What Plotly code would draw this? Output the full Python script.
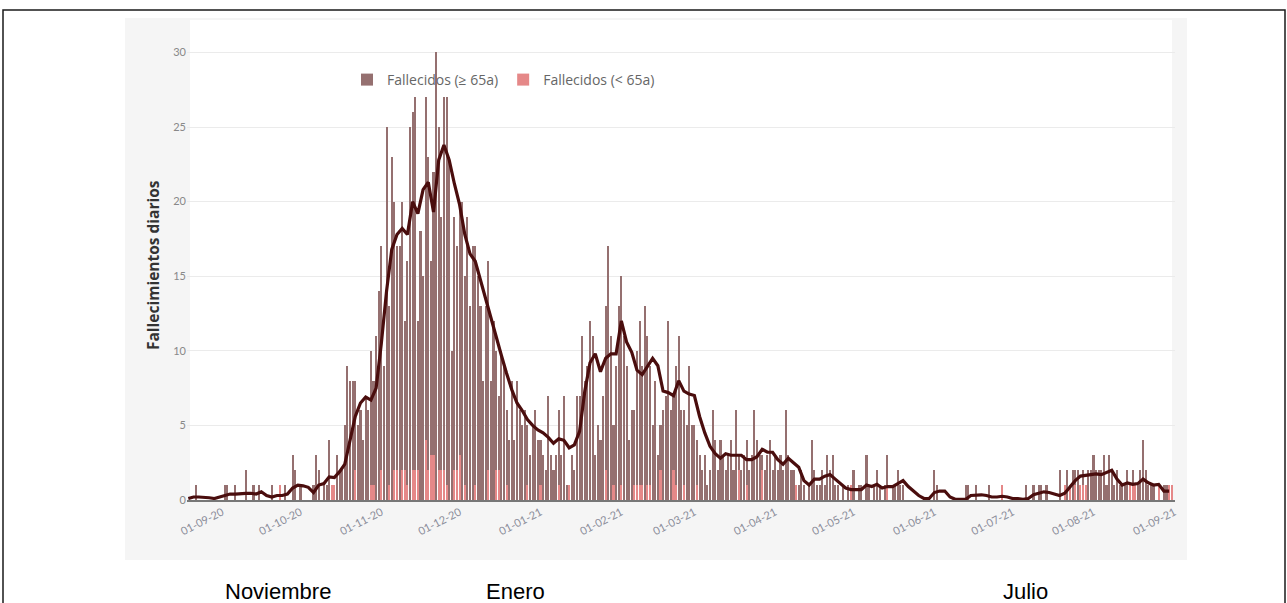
import pandas as pd
import plotly.graph_objects as go

# ---- Fallecidos diarios (total), por mes, desde 2020-08-19 ----
total_ago20 = [0, 0, 0, 1, 0, 0, 0, 0, 0, 0, 0, 0, 0]
total_sep20 = [0, 1, 1, 0, 0, 1, 0, 0, 0, 2, 0, 0, 1, 0, 1, 0, 0, 0, 0, 1,
               0, 0, 1, 0, 1, 0, 0, 3, 2, 0]
total_oct20 = [1, 0, 0, 0, 0, 1, 3, 2, 0, 1, 1, 4, 1, 1, 3, 2, 2, 5, 9, 8,
               8, 8, 5, 6, 4, 7, 6, 10, 8, 11, 14]
total_nov20 = [17, 9, 25, 13, 23, 20, 17, 17, 20, 12, 16, 25, 26, 27, 12, 18, 15, 27, 23, 16,
               22, 30, 25, 19, 27, 27, 23, 10, 19, 17]
total_dic20 = [20, 20, 15, 19, 13, 17, 17, 15, 13, 8, 13, 16, 8, 12, 10, 7, 10, 9, 6, 4,
               8, 4, 8, 6, 5, 6, 5, 3, 5, 6, 4]
total_ene21 = [4, 3, 2, 7, 3, 2, 3, 6, 3, 7, 1, 1, 3, 2, 7, 7, 11, 8, 9, 12,
               11, 3, 5, 4, 7, 13, 17, 11, 5, 9, 13]
total_feb21 = [15, 11, 9, 4, 6, 6, 10, 12, 9, 13, 11, 9, 5, 8, 3, 5, 6, 7, 12, 6,
               7, 9, 11, 6, 6, 5, 9, 5]
total_mar21 = [5, 4, 3, 2, 3, 1, 2, 6, 4, 2, 4, 3, 2, 3, 4, 2, 6, 3, 2, 3,
               4, 2, 3, 6, 4, 3, 3, 2, 3, 4, 2]
total_abr21 = [3, 2, 3, 2, 6, 3, 2, 2, 1, 1, 2, 1, 0, 1, 4, 2, 1, 1, 2, 1,
               3, 2, 3, 1, 1, 0, 1, 0, 1, 1]
total_may21 = [2, 0, 1, 1, 0, 3, 1, 0, 1, 2, 1, 0, 1, 3, 0, 1, 1, 2, 1, 1,
               0, 0, 0, 0, 0, 0, 0, 0, 0, 0, 0]
total_jun21 = [2, 1, 0, 0, 0, 0, 0, 0, 0, 0, 0, 0, 1, 1, 0, 0, 1, 0, 0, 0,
               0, 1, 0, 0, 0, 0, 1, 0, 0, 0]
total_jul21 = [0, 0, 0, 0, 0, 1, 0, 0, 1, 0, 1, 1, 0, 1, 0, 0, 0, 0, 2, 0,
               1, 2, 1, 2, 2, 2, 1, 2, 1, 2, 2]
total_ago21 = [3, 2, 2, 2, 3, 1, 3, 2, 1, 2, 1, 1, 1, 2, 1, 2, 1, 1, 2, 4,
               2, 1, 1, 1, 0, 1, 0, 1, 1, 1, 1]

# ---- Fallecidos (< 65a): días con valor distinto de cero ----
menores_65 = {
    "2020-09-23": 1, "2020-10-13": 1, "2020-10-14": 1, "2020-10-22": 2, "2020-10-28": 1,
    "2020-10-29": 1, "2020-11-01": 2, "2020-11-04": 1, "2020-11-06": 2, "2020-11-07": 2,
    "2020-11-09": 2, "2020-11-10": 2, "2020-11-11": 1, "2020-11-13": 2, "2020-11-14": 2,
    "2020-11-15": 2, "2020-11-18": 4, "2020-11-19": 2, "2020-11-20": 3, "2020-11-21": 3,
    "2020-11-23": 2, "2020-11-24": 2, "2020-11-25": 2, "2020-11-26": 1, "2020-11-29": 2,
    "2020-11-30": 2, "2020-12-01": 3, "2020-12-03": 1, "2020-12-07": 1, "2020-12-12": 2,
    "2020-12-15": 2, "2020-12-16": 2, "2020-12-19": 1, "2020-12-27": 1, "2021-01-01": 1,
    "2021-01-08": 1, "2021-01-12": 1, "2021-01-26": 2, "2021-01-29": 1, "2021-02-01": 1,
    "2021-02-06": 1, "2021-02-07": 1, "2021-02-08": 1, "2021-02-09": 1, "2021-02-11": 1,
    "2021-02-12": 1, "2021-02-16": 2, "2021-02-21": 2, "2021-02-22": 1, "2021-02-25": 1,
    "2021-03-02": 1, "2021-03-18": 2, "2021-03-21": 1, "2021-03-27": 2, "2021-04-09": 1,
    "2021-04-30": 1, "2021-05-14": 1, "2021-06-27": 1, "2021-07-21": 1, "2021-07-23": 1,
    "2021-07-25": 1, "2021-07-27": 1, "2021-07-28": 1, "2021-07-29": 1, "2021-08-15": 1,
    "2021-08-16": 1, "2021-08-17": 1, "2021-08-26": 1, "2021-08-30": 1, "2021-08-31": 1,
}

# ---- Media móvil (línea), leída cada 2 días desde 2020-08-19 ----
media_movil = [
    0.1, 0.2, 0.2, 0.2, 0.15, 0.1, 0.2, 0.3, 0.4, 0.4,
    0.45, 0.45, 0.45, 0.4, 0.55, 0.3, 0.2, 0.3, 0.3, 0.4,
    0.8, 1.0, 0.95, 0.85, 0.5, 1.0, 1.1, 1.55, 1.5, 1.9,
    2.4, 4.0, 5.6, 6.5, 6.9, 6.7, 7.5, 10.5, 14, 16.8,
    17.8, 18.2, 17.8, 20, 19.2, 20.8, 21.3, 19.3, 22.8, 23.8,
    22.8, 21.2, 19.8, 17.8, 16.5, 16, 14.7, 13.5, 12.2, 10.8,
    9.7, 8.5, 7.4, 6.5, 6.0, 5.4, 5.0, 4.7, 4.5, 4.2,
    3.8, 4.1, 4.0, 3.5, 3.7, 4.6, 7.3, 9.2, 9.8, 8.6,
    9.5, 9.8, 9.8, 12.0, 10.6, 9.9, 8.7, 8.4, 9.0, 9.5,
    9.0, 7.3, 7.2, 7.0, 8.0, 7.3, 7.1, 7.0, 5.6, 4.5,
    3.6, 3.1, 2.8, 3.1, 3.0, 3.0, 3.0, 2.7, 2.7, 2.9,
    3.4, 3.2, 3.2, 2.7, 2.4, 2.8, 2.5, 2.2, 1.3, 1.0,
    1.4, 1.4, 1.6, 1.7, 1.4, 1.1, 0.8, 0.7, 0.7, 0.7,
    1.0, 0.9, 1.05, 0.8, 0.9, 0.9, 1.1, 1.3, 0.9, 0.6,
    0.3, 0.1, 0.1, 0.5, 0.6, 0.6, 0.2, 0.05, 0.05, 0.05,
    0.3, 0.35, 0.35, 0.3, 0.2, 0.2, 0.25, 0.2, 0.1, 0.1,
    0.05, 0.1, 0.35, 0.45, 0.55, 0.5, 0.4, 0.3, 0.45, 0.9,
    1.3, 1.6, 1.65, 1.7, 1.75, 1.7, 1.85, 2.0, 1.4, 1.0,
    1.15, 1.05, 1.1, 1.4, 1.15, 1.0, 1.05, 0.6, 0.6,
]

y_ticks = [0, 5, 10, 15, 20, 25, 30]
meses_texto = ["Noviembre", "Enero", "Julio"]

inicio = "2020-08-19"
total = (total_ago20 + total_sep20 + total_oct20 + total_nov20 + total_dic20 + total_ene21
         + total_feb21 + total_mar21 + total_abr21 + total_may21 + total_jun21
         + total_jul21 + total_ago21)
fechas = pd.date_range(inicio, periods=len(total), freq="D")
menores = [menores_65.get(d.strftime("%Y-%m-%d"), 0) for d in fechas]
mayores = [t - m for t, m in zip(total, menores)]
fechas_media = pd.date_range(inicio, periods=len(media_movil), freq="2D")

# ---- layout geometry (pixels) ----
W, H = 1287, 603
L, R, T, B = 187, 112, 45, 103
pw, ph = W - L - R, H - T - B


def px(xp):
    return (xp - L) / pw


def py(yp):
    return (H - B - yp) / ph


FONT = "Lato"
fig = go.Figure()
fig.add_trace(go.Bar(x=fechas, y=menores, name="Fallecidos (< 65a)",
                     marker=dict(color="#e58888", line=dict(width=0))))
fig.add_trace(go.Bar(x=fechas, y=mayores, name="Fallecidos (≥ 65a)",
                     marker=dict(color="#957070", line=dict(width=0))))
fig.add_trace(go.Scatter(x=fechas_media, y=media_movil, mode="lines",
                         line=dict(color="#4a0d0d", width=3.2), showlegend=False))

shapes = [
    # light grey card behind the chart
    dict(type="rect", xref="paper", yref="paper", x0=px(125), x1=px(1187), y0=py(560), y1=py(18),
         fillcolor="#f5f5f5", line=dict(width=0), layer="below"),
    dict(type="rect", xref="paper", yref="paper", x0=px(190), x1=px(1172), y0=py(500), y1=py(20),
         fillcolor="#ffffff", line=dict(width=0), layer="below"),
    # outer frame
    dict(type="rect", xref="paper", yref="paper", x0=px(3), x1=px(1285), y0=py(640), y1=py(10),
         fillcolor="rgba(0,0,0,0)", line=dict(color="#1a1a1a", width=1.5), layer="below"),
]

annotations = [
    dict(text="<b>Fallecimientos diarios</b>", xref="paper", yref="paper", x=px(153), y=py(265),
         textangle=-90, showarrow=False, font=dict(family="Open Sans", size=15.5, color="#333333"),
         xanchor="center", yanchor="middle"),
]
for txt, xc in zip(meses_texto, [278, 515, 1025]):
    annotations.append(dict(text=txt, xref="paper", yref="paper", x=px(xc), y=py(591),
                            showarrow=False, xanchor="center", yanchor="middle",
                            font=dict(family="Liberation Sans", size=22, color="#000000")))

fig.update_layout(
    width=W, height=H,
    margin=dict(l=L, r=R, t=T, b=B, pad=0),
    paper_bgcolor="#ffffff", plot_bgcolor="#ffffff",
    barmode="stack", bargap=0.2,
    font=dict(family=FONT, color="#777777"),
    showlegend=True,
    legend=dict(orientation="h", x=px(347), y=py(80), xanchor="left", yanchor="middle",
                traceorder="reversed", bgcolor="rgba(0,0,0,0)",
                font=dict(family="Open Sans", size=14, color="#666666"), itemwidth=30),
    shapes=shapes, annotations=annotations,
    xaxis=dict(type="date", range=["2020-08-18 12:00", "2021-09-01 06:00"],
               tick0="2020-09-01", dtick="M1", tickformat="%d-%m-%y", tickangle=-27,
               showgrid=False, showline=True, linecolor="#777777", linewidth=1.5,
               ticks="", tickfont=dict(family=FONT, size=11, color="#8a8c99")),
    yaxis=dict(range=[0, 30.5], tickvals=y_ticks, showgrid=True, gridcolor="#ebebeb",
               gridwidth=1, zeroline=False, showline=False, ticks="",
               tickfont=dict(family=FONT, size=11, color="#888888")),
)

fig.write_html("out.html", config={"displayModeBar": False},
               post_script="document.body.style.margin='0px';")
